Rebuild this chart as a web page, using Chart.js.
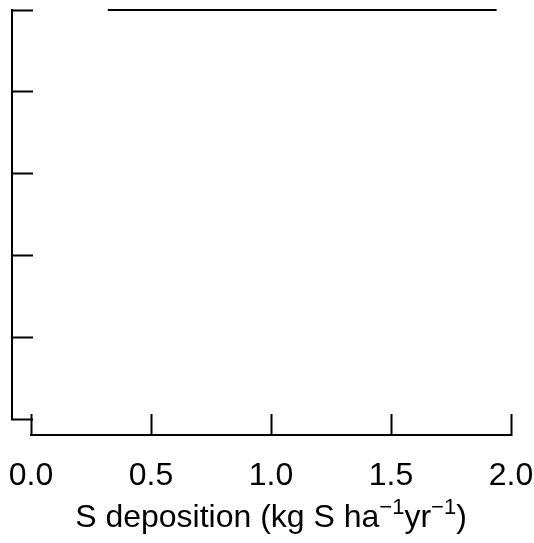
<!DOCTYPE html>
<html>
<head>
<meta charset="utf-8">
<script src="https://cdn.jsdelivr.net/npm/chart.js@4/dist/chart.umd.min.js"></script>
<style>
  html, body { margin: 0; padding: 0; background: #fff; }
  .chart-container { position: relative; width: 534px; height: 543px; }
</style>
</head>
<body>
<div class="chart-container">
  <canvas id="depositionChart"></canvas>
</div>
<script>
  // values
  const xTicks = [0.0, 0.5, 1.0, 1.5, 2.0];
  const yTicks = [0, 1, 2, 3, 4, 5];
  const lineX = [0.32, 1.94];
  const lineY = [5, 5];

  const FONT = "'Liberation Sans', Arial, Helvetica, sans-serif";

  // x axis title with superscripts
  const axisTitle = {
    id: "axisTitle",
    afterDraw(chart) {
      const ctx = chart.ctx;
      const xs = chart.scales.x;
      const parts = [
        ["S deposition (kg S ha", false],
        ["\u22121", true],
        ["yr", false],
        ["\u22121", true],
        [")", false],
      ];
      const big = "32px " + FONT;
      const small = "22px " + FONT;
      ctx.save();
      ctx.fillStyle = "#000";
      ctx.textBaseline = "alphabetic";
      ctx.textAlign = "left";
      let total = 0;
      parts.forEach(([t, sup]) => {
        ctx.font = sup ? small : big;
        total += ctx.measureText(t).width;
      });
      let x = (xs.left + xs.right) / 2 - total / 2;
      const base = 527;
      parts.forEach(([t, sup]) => {
        ctx.font = sup ? small : big;
        ctx.fillText(t, x, sup ? base - 13 : base);
        x += ctx.measureText(t).width;
      });
      ctx.restore();
    },
  };

  function createChart() {
    const ctx = document.getElementById("depositionChart").getContext("2d");
    const axisGrid = {
      drawOnChartArea: false,
      drawTicks: true,
      tickLength: -22,
      tickWidth: 2,
      tickColor: "#000",
    };
    const axisBorder = { display: true, color: "#000", width: 2 };

    const myChart = new Chart(ctx, {
      type: "line",
      data: {
        datasets: [
          {
            data: lineX.map((x, i) => ({ x: x, y: lineY[i] })),
            borderColor: "#000",
            borderWidth: 2,
            pointRadius: 0,
            fill: false,
            clip: false,
          },
        ],
      },
      options: {
        responsive: true,
        maintainAspectRatio: false,
        animation: false,
        layout: { padding: { left: 31, right: 23, top: 10, bottom: 124 } },
        plugins: {
          legend: { display: false },
          tooltip: { enabled: false },
        },
        scales: {
          x: {
            type: "linear",
            axis: "x",
            position: { y: -0.196 },
            min: 0,
            max: 2,
            afterBuildTicks: (axis) => {
              axis.ticks = xTicks.map((v) => ({ value: v }));
            },
            afterFit: (axis) => {
              // labels sit below a detached axis, keep them out of the layout
              axis.paddingLeft = 0;
              axis.paddingRight = 0;
            },
            ticks: {
              color: "#000",
              font: { family: FONT, size: 32 },
              padding: 44,
              maxRotation: 0,
              autoSkip: false,
              callback: (v) => Number(v).toFixed(1),
            },
            grid: axisGrid,
            border: axisBorder,
          },
          y: {
            type: "linear",
            axis: "y",
            position: { x: -0.079 },
            min: 0,
            max: 5,
            afterBuildTicks: (axis) => {
              axis.ticks = yTicks.map((v) => ({ value: v }));
            },
            afterFit: (axis) => {
              axis.paddingTop = 0;
              axis.paddingBottom = 0;
            },
            ticks: { display: false },
            grid: axisGrid,
            border: axisBorder,
          },
        },
      },
      plugins: [axisTitle],
    });
  }

  createChart();
</script>
</body>
</html>
